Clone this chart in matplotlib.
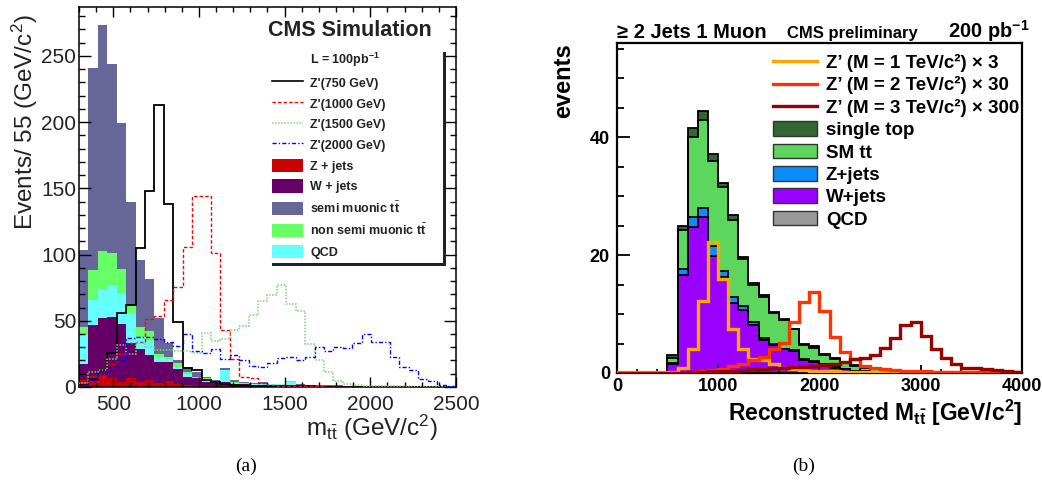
import numpy as np
import matplotlib
matplotlib.use('Agg')
import matplotlib.pyplot as plt
from matplotlib.lines import Line2D
from matplotlib.patches import Patch, Rectangle
from matplotlib.ticker import MultipleLocator

plt.rcParams['font.family'] = ['Liberation Sans', 'DejaVu Sans']
plt.rcParams['mathtext.fontset'] = 'custom'
plt.rcParams['mathtext.rm'] = 'Liberation Sans'
plt.rcParams['mathtext.it'] = 'Liberation Sans:italic'
plt.rcParams['mathtext.bf'] = 'Liberation Sans:bold'

# ---- panel (a): 55 GeV bins from 300 to 2500 GeV ----
a_start, a_width, a_nbins = 300, 55, 40
z_jets_a = [5, 8.5, 10, 6.5, 4, 7, 4, 5.5, 3, 4.5, 2.5, 1.5, 1.2, 1, 0.8, 0.7, 0.6, 0.5, 0.5, 0.4,
            0.4, 0.3, 0.3, 0.3, 0.2, 0.2, 0.2, 0.2, 0.1, 0.1, 0.1, 0.1, 0.1, 0.1, 0.1, 0, 0, 0, 0, 0]
w_jets_a = [12.7, 38.5, 42, 46.5, 43.5, 26, 25, 18.5, 16, 14, 11, 6.1, 5.3, 3, 2.2, 3.3, 1.7, 1.3, 1, 0.9,
            0.8, 0.7, 0.7, 0.5, 0.5, 0.4, 0.3, 0.3, 0.3, 0.3, 0.2, 0.2, 0.2, 0.1, 0.1, 0.1, 0.1, 0.1, 0.1, 0]
qcd_a = [21.3, 19, 22, 24, 23.5, 23, 9, 11, 4, 2.5, 1.5, 1.9, 0.1, 1.8, 0.5, 8.5, 0.5, 0.7, 0.7, 0.7,
         0.8, 1, 3, 0.4, 0.3, 0.2, 0.2, 0.1, 0.1, 0.1, 0.1, 0.1, 0, 0, 0, 0.1, 0.1, 0.1, 0, 0.1]
non_semi_a = [6, 22, 29, 24, 18, 6, 7.5, 7, 2, 2, 3, 1.5, 1.2, 0.7, 0.7, 0.5, 0.7, 0.5, 0.4, 0.3,
              0.3, 0.3, 0.3, 0.3, 0.2, 0.2, 0.2, 0.2, 0.1, 0.1, 0.1, 0.1, 0.1, 0.1, 0, 0.1, 0, 0, 0.1, 0]
semi_a = [58.5, 153, 170.5, 143, 110, 77.6, 50, 39.6, 27, 10, 2, 4, 3.8, 0.8, 1.1, 1, 1.8, 1, 0.4, 1.2,
          0.2, 0.2, 0.2, 0.5, 0.5, 0.5, 0.4, 0.4, 0.4, 0.4, 0.4, 0.3, 0.3, 0.2, 0.2, 0.2, 0.2, 0.1, 0.1, 0.1]
zp750 = [1.3, 6.3, 12.6, 25.8, 55.5, 62, 105, 148, 212.6, 138.4, 49, 14.6, 13, 5, 3.5, 2.5, 1.5, 1.2, 1, 1,
         0.8, 0.7, 0.6, 0.5, 0.4, 0.3, 0.3, 0.3, 0.2, 0.2, 0.2, 0.1, 0.1, 0.1, 0.1, 0.1, 0, 0, 0, 0]
zp1000 = [1.3, 3.8, 8, 17.7, 25, 33, 34, 51, 53.5, 65.7, 75.8, 106, 144.4, 144.4, 101, 43, 21, 7.3, 6.6, 3.3,
          1.5, 1, 0.8, 0.6, 0.5, 0.4, 0.3, 0.3, 0.2, 0.2, 0.2, 0.1, 0.1, 0.1, 0.1, 0, 0, 0, 0, 0]
zp1500 = [3, 11.4, 12.6, 21.5, 32, 25, 33, 30, 28, 28, 27, 27, 26, 40.7, 34.8, 36, 43, 45.7, 54.5, 64.6,
          69.7, 76.8, 62.6, 57, 32.3, 20.5, 11.6, 4.8, 2.3, 1.5, 1, 0.8, 0.6, 0.5, 0.4, 0.3, 0.2, 0.2, 0.1, 0.1]
zp2000 = [1.3, 5, 10, 15, 20, 37, 38, 38, 36.6, 34, 31, 40, 27, 26, 28.5, 21, 24.2, 20.5, 15.9, 15.4,
          18, 21.7, 22.5, 20.5, 23, 30, 27.5, 30, 29.3, 33, 40, 33.6, 33.6, 22.5, 15.4, 12.9, 5.8, 4.8, 1.5, 0.8]

# ---- panel (b): 100 GeV bins from 0 to 4000 GeV ----
b_start, b_width, b_nbins = 0, 100, 40
qcd_b = [0, 0, 0, 0, 0, 0, 0.1, 0.1, 0.1, 0.1, 0.1, 0, 0, 0, 0, 0, 0, 0, 0, 0,
         0, 0, 0, 0, 0, 0, 0, 0, 0, 0, 0, 0, 0, 0, 0, 0, 0, 0, 0, 0]
w_jets_b = [0, 0, 0, 0, 0, 1.6, 16.5, 24.7, 26.3, 19.8, 16.2, 11.8, 10.7, 8.1, 5.6, 4.7, 4.0, 3.7, 2.2, 1.9,
            1.4, 0.9, 0.6, 0.3, 0.2, 0.15, 0.1, 0.1, 0.05, 0.05, 0.05, 0, 0, 0, 0, 0, 0, 0, 0, 0]
z_jets_b = [0, 0, 0, 0, 0, 0.1, 1.0, 1.6, 1.6, 1.7, 1.0, 1.1, 0.7, 0.6, 0.4, 0.3, 0.1, 0.2, 0.1, 0.1,
            0.1, 0.1, 0.1, 0.1, 0.1, 0.05, 0.05, 0, 0, 0, 0, 0, 0, 0, 0, 0, 0, 0, 0, 0]
ttbar_b = [0, 0, 0, 0, 0, 0.9, 6.7, 13.6, 14.9, 14.4, 14.2, 13.1, 7.9, 6.2, 6.9, 5.1, 4.9, 3.5, 2.5, 2.3,
           1.6, 1.4, 1.0, 0.7, 0.6, 0.4, 0.3, 0.25, 0.2, 0.2, 0.2, 0.15, 0.15, 0.1, 0.1, 0.1, 0.05, 0.05, 0, 0]
single_top_b = [0, 0, 0, 0, 0, 0.5, 0.7, 1.6, 1.6, 1.2, 0.7, 0.8, 0.4, 0.4, 0.4, 0.2, 0.2, 0.1, 0.2, 0.2,
                0.2, 0.2, 0.2, 0.2, 0.1, 0.1, 0.05, 0.05, 0.05, 0.05, 0.05, 0.05, 0.05, 0, 0, 0, 0, 0, 0, 0]
zp1tev = [0.1, 0.1, 0.1, 0.1, 0.1, 0.1, 0.85, 4, 12.2, 22.2, 16, 7.5, 4, 2.3, 2.2, 1.5, 0.85, 0.6, 0.5, 0.4,
          0.3, 0.3, 0.2, 0.2, 0.2, 0.15, 0.1, 0.1, 0.1, 0.1, 0.1, 0.1, 0.1, 0.1, 0.1, 0.1, 0.1, 0.1, 0.1, 0.1]
zp2tev = [0, 0, 0, 0, 0, 0, 0, 0.1, 0.3, 0.45, 0.7, 1.1, 1.6, 2.2, 2.7, 4, 5.1, 8.7, 12.1, 13.8,
          10.5, 6.1, 3.6, 2.4, 1.1, 0.8, 0.6, 0.45, 0.35, 0.35, 0.3, 0.25, 0.2, 0.2, 0.15, 0.1, 0.1, 0.1, 0.1, 0.1]
zp3tev = [0, 0, 0, 0, 0, 0, 0, 0.1, 0.2, 0.3, 0.35, 0.4, 0.5, 0.6, 0.7, 0.8, 0.9, 1.0, 1.0, 1.1,
          1.4, 1.6, 1.9, 2.3, 2.6, 3.0, 4.3, 6.0, 8.1, 8.7, 6.2, 4.0, 2.6, 1.5, 0.9, 0.8, 0.6, 0.5, 0.3, 0.2]

fig = plt.figure(figsize=(10.42, 4.88), dpi=100)
axa = fig.add_axes([0.0758, 0.207, 0.3618, 0.779])
axb = fig.add_axes([0.592, 0.2357, 0.3887, 0.676])
txt = '#222222'

# ---------------- panel (a) ----------------
a_edges = a_start + a_width * np.arange(a_nbins + 1)
bottom = np.zeros(a_nbins)
for vals, col in [(z_jets_a, '#cc0000'), (w_jets_a, '#660066'), (qcd_a, '#66ffff'),
                  (non_semi_a, '#66ff66'), (semi_a, '#666699')]:
    top = bottom + np.array(vals)
    axa.stairs(top, a_edges, baseline=bottom, fill=True, color=col, lw=0)
    bottom = top

axa.stairs(zp750, a_edges, color='black', lw=1.3, zorder=3)
axa.stairs(zp1000, a_edges, color='#ff0000', lw=1.0, ls=(0, (2.5, 1.5)), zorder=3)
axa.stairs(zp1500, a_edges, color='#80d080', lw=1.1, ls=(0, (1, 1)), zorder=3)
axa.stairs(zp2000, a_edges, color='#0000ff', lw=1.0, ls=(0, (3, 1.5, 1, 1.5)), zorder=3)

axa.set_xlim(300, 2500)
axa.set_ylim(0, 287)
axa.xaxis.set_major_locator(MultipleLocator(500))
axa.xaxis.set_minor_locator(MultipleLocator(100))
axa.yaxis.set_major_locator(MultipleLocator(50))
axa.yaxis.set_minor_locator(MultipleLocator(10))
axa.tick_params(which='both', direction='in', top=True, right=True, labelsize=15,
                labelcolor=txt, width=1.0)
axa.tick_params(axis='y', which='major', length=8.6, pad=2)
axa.tick_params(axis='y', which='minor', length=4.3)
axa.tick_params(axis='x', which='major', length=7.2, pad=5.5)
axa.tick_params(axis='x', which='minor', length=3.6)
for s in axa.spines.values():
    s.set_linewidth(1.1)

axa.set_ylabel('Events/ 55 (GeV/c$^{2}$)', fontsize=17.5, color=txt, loc='top')
axa.yaxis.set_label_coords(-0.103, 0.979)
axa.set_xlabel(r'm$_{\mathrm{t\bar{t}}}$ (GeV/c$^{2}$)', fontsize=17.5, color=txt, loc='right')
axa.xaxis.set_label_coords(0.95, -0.068)

axa.text(0.719, 0.922, 'CMS Simulation', transform=axa.transAxes, ha='center',
         va='baseline', fontsize=15.5, fontweight='bold', color=txt)

# legend box with ROOT-like shadow
sh = 3 / 377
axa.add_patch(Rectangle((0.504 + sh, 0.326 - 3 / 380), 0.461, 0.563, transform=axa.transAxes,
                        facecolor='#222222', edgecolor='none', zorder=4))
axa.add_patch(Rectangle((0.504, 0.326), 0.461, 0.563, transform=axa.transAxes,
                        facecolor='white', edgecolor='none', zorder=5))
handles_a = [
    Line2D([], [], color='none'),
    Line2D([], [], color='black', lw=1.2),
    Line2D([], [], color='#ff0000', lw=1.0, ls=(0, (2.5, 1.5))),
    Line2D([], [], color='#80d080', lw=1.1, ls=(0, (1, 1))),
    Line2D([], [], color='#0000ff', lw=1.0, ls=(0, (3, 1.5, 1, 1.5))),
    Patch(facecolor='#cc0000', edgecolor='none'),
    Patch(facecolor='#660066', edgecolor='none'),
    Patch(facecolor='#666699', edgecolor='none'),
    Patch(facecolor='#66ff66', edgecolor='none'),
    Patch(facecolor='#66ffff', edgecolor='none'),
]
labels_a = [r'L = 100pb$^{\mathbf{-1}}$', "Z'(750 GeV)", "Z'(1000 GeV)", "Z'(1500 GeV)",
            "Z'(2000 GeV)", 'Z + jets', 'W + jets', r'semi muonic t$\bar{\mathbf{t}}$',
            r'non semi muonic t$\bar{\mathbf{t}}$', 'QCD']
leg_a = axa.legend(handles_a, labels_a, loc='upper left', bbox_to_anchor=(0.512, 0.884),
                   frameon=False, borderpad=0, borderaxespad=0, handlelength=2.5,
                   handleheight=1.25, handletextpad=0.56, labelspacing=0.55,
                   prop={'weight': 'bold', 'size': 9})
leg_a.set_zorder(6)
for t in leg_a.get_texts():
    t.set_color(txt)

# ---------------- panel (b) ----------------
b_edges = b_start + b_width * np.arange(b_nbins + 1)
bottom = np.zeros(b_nbins)
tops = []
for vals, col in [(qcd_b, '#999999'), (w_jets_b, '#9900ff'), (z_jets_b, '#0a8cff'),
                  (ttbar_b, '#5cd65c'), (single_top_b, '#336633')]:
    top = bottom + np.array(vals)
    axb.stairs(top, b_edges, baseline=bottom, fill=True, color=col, lw=0)
    tops.append(top)
    bottom = top
for top in tops[1:]:
    axb.stairs(top, b_edges, color='black', lw=1.3, zorder=2.5)

axb.stairs(zp1tev, b_edges, color='#ffa500', lw=2.4, zorder=3)
axb.stairs(zp2tev, b_edges, color='#ff3300', lw=2.4, zorder=3)
axb.stairs(zp3tev, b_edges, color='#990000', lw=2.4, zorder=3)

axb.set_xlim(0, 4000)
axb.set_ylim(0, 56)
axb.xaxis.set_major_locator(MultipleLocator(1000))
axb.xaxis.set_minor_locator(MultipleLocator(200))
axb.yaxis.set_major_locator(MultipleLocator(20))
axb.yaxis.set_minor_locator(MultipleLocator(5))
axb.tick_params(which='both', direction='in', width=1.3)
axb.tick_params(axis='y', which='major', length=9.4, pad=5)
axb.tick_params(axis='y', which='minor', length=5)
axb.tick_params(axis='x', which='major', length=5.8, pad=3.6)
axb.tick_params(axis='x', which='minor', length=2.9)
for lab in axb.get_xticklabels() + axb.get_yticklabels():
    lab.set_fontweight('bold')
    lab.set_fontsize(13)
for s in axb.spines.values():
    s.set_linewidth(1.6)

axb.set_ylabel('events', fontsize=17, fontweight='bold', loc='top')
axb.yaxis.set_label_coords(-0.104, 1.0)
axb.set_xlabel(r'Reconstructed M$_{\mathbf{t\bar{t}}}$ [GeV/c$^{\mathbf{2}}$]', fontsize=16.5,
               fontweight='bold', loc='right')
axb.xaxis.set_label_coords(1.0, -0.076)

axb.text(0.0, 1.015, '≥ 2 Jets 1 Muon', transform=axb.transAxes, ha='left', va='baseline',
         fontsize=14.5, fontweight='bold')
axb.text(0.42, 1.015, 'CMS preliminary', transform=axb.transAxes, ha='left', va='baseline',
         fontsize=12, fontweight='bold')
axb.text(1.02, 1.015, r'200 pb$^{\mathbf{-1}}$', transform=axb.transAxes, ha='right',
         va='baseline', fontsize=14.5, fontweight='bold')

handles_b = [
    Line2D([], [], color='#ffa500', lw=2.4),
    Line2D([], [], color='#ff3300', lw=2.4),
    Line2D([], [], color='#990000', lw=2.4),
    Patch(facecolor='#336633', edgecolor='#333333', lw=1),
    Patch(facecolor='#5cd65c', edgecolor='#333333', lw=1),
    Patch(facecolor='#0a8cff', edgecolor='#333333', lw=1),
    Patch(facecolor='#9900ff', edgecolor='#333333', lw=1),
    Patch(facecolor='#999999', edgecolor='#333333', lw=1),
]
labels_b = ['Z’ (M = 1 TeV/c²) × 3', 'Z’ (M = 2 TeV/c²) × 30',
            'Z’ (M = 3 TeV/c²) × 300', 'single top', 'SM tt', 'Z+jets',
            'W+jets', 'QCD']
axb.legend(handles_b, labels_b, loc='upper left', bbox_to_anchor=(0.385, 0.967),
           frameon=False, borderpad=0, borderaxespad=0, handlelength=2.35,
           handleheight=0.84, handletextpad=0.48, labelspacing=0.235,
           prop={'weight': 'bold', 'size': 13.5})

fig.text(0.236, 0.045, '(a)', ha='center', va='center', fontsize=14, family='Liberation Serif')
fig.text(0.771, 0.045, '(b)', ha='center', va='center', fontsize=14, family='Liberation Serif')

fig.savefig('out.png', dpi=100, facecolor='white')
